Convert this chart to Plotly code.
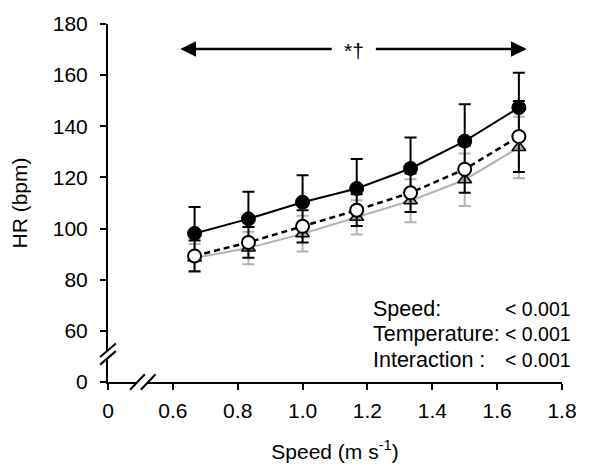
import plotly.graph_objects as go

speed = [0.667, 0.833, 1.0, 1.167, 1.333, 1.5, 1.667]

hr_hot = [98.1, 103.8, 110.3, 115.7, 123.5, 134.2, 147.3]
sd_hot = [10.3, 10.6, 10.6, 11.5, 12.1, 14.4, 13.6]

hr_mid = [89.3, 94.6, 100.9, 107.2, 114.0, 123.2, 136.0]
sd_mid = [6.0, 6.0, 6.3, 6.2, 7.5, 9.2, 13.9]

hr_cool = [88.5, 92.4, 98.0, 104.4, 110.9, 119.1, 131.7]
sd_cool = [5.5, 6.4, 7.0, 6.7, 8.4, 10.3, 12.0]

x_tickvals = [0.4, 0.6, 0.8, 1.0, 1.2, 1.4, 1.6, 1.8]
x_ticktext = ["0", "0.6", "0.8", "1.0", "1.2", "1.4", "1.6", "1.8"]
y_tickvals = [40, 60, 80, 100, 120, 140, 160, 180]
y_ticktext = ["0", "60", "80", "100", "120", "140", "160", "180"]

stats_labels = ["Speed:", "Temperature:", "Interaction :"]
stats_values = ["< 0.001", "< 0.001", "< 0.001"]

sig_text = "*†"
arrow_y = 170.2
arrow_span = [0.623, 1.691]
arrow_gap = [1.09, 1.226]

FONT = "Liberation Sans, Arial, sans-serif"
FS = 21
W, H = 589, 472
ML, MR, MT, MB = 108, 18, 20, 81
PW, PH = W - ML - MR, H - MT - MB
XR = [0.4, 1.8]
YR = [40, 180]

GRAY = "#b4b4b4"

fig = go.Figure()

fig.add_trace(go.Scatter(
    x=speed, y=hr_cool, mode="lines+markers",
    line=dict(color=GRAY, width=2),
    marker=dict(symbol="triangle-up", size=12, color="#a6a6a6",
                line=dict(color="black", width=1.5)),
    error_y=dict(type="data", array=sd_cool, symmetric=True,
                 color=GRAY, thickness=2, width=6),
    showlegend=False, cliponaxis=False))

fig.add_trace(go.Scatter(
    x=speed, y=hr_mid, mode="lines+markers",
    line=dict(color="black", width=2.5, dash="6px,4px"),
    marker=dict(symbol="circle", size=13, color="white",
                line=dict(color="black", width=2)),
    error_y=dict(type="data", array=sd_mid, symmetric=True,
                 color="black", thickness=2, width=6),
    showlegend=False, cliponaxis=False))

fig.add_trace(go.Scatter(
    x=speed, y=hr_hot, mode="lines+markers",
    line=dict(color="black", width=2),
    marker=dict(symbol="circle", size=14, color="black",
                line=dict(color="black", width=1)),
    error_y=dict(type="data", array=sd_hot, arrayminus=[0] * len(sd_hot),
                 symmetric=False, color="black", thickness=2, width=6),
    showlegend=False, cliponaxis=False))


def px2paper(px, py):
    return (px - ML) / PW, (MT + PH - py) / PH


def data2px(x, y):
    return (ML + (x - XR[0]) / (XR[1] - XR[0]) * PW,
            MT + (YR[1] - y) / (YR[1] - YR[0]) * PH)


shapes = []


def poly(points, fill):
    pp = [px2paper(*p) for p in points]
    path = "M " + " L ".join("{} {}".format(a, b) for a, b in pp) + " Z"
    shapes.append(dict(type="path", path=path, xref="paper", yref="paper",
                       fillcolor=fill, line=dict(width=0), layer="above"))


def seg(p0, p1, width=2):
    x0, y0 = px2paper(*p0)
    x1, y1 = px2paper(*p1)
    shapes.append(dict(type="line", xref="paper", yref="paper",
                       x0=x0, y0=y0, x1=x1, y1=y1,
                       line=dict(color="black", width=width), layer="above"))


def add_break(cx, cy, sep_dx, sep_dy, hw, hh):
    poly([(cx - sep_dx / 2 - hw, cy - sep_dy / 2 + hh),
          (cx - sep_dx / 2 + hw, cy - sep_dy / 2 - hh),
          (cx + sep_dx / 2 + hw, cy + sep_dy / 2 - hh),
          (cx + sep_dx / 2 - hw, cy + sep_dy / 2 + hh)], "white")
    for s in (-1, 1):
        ox, oy = cx + s * sep_dx / 2, cy + s * sep_dy / 2
        seg((ox - hw, oy + hh), (ox + hw, oy - hh))


# axis breaks
add_break(ML, 362, 0, 8, 8, 7)
add_break(143.5, MT + PH, 11, 0, 7.5, 8)

# double-headed arrow with gap for the significance text
HL, HH = 16, 8
lx, ay = data2px(arrow_span[0], arrow_y)
rx, _ = data2px(arrow_span[1], arrow_y)
g0, _ = data2px(arrow_gap[0], arrow_y)
g1, _ = data2px(arrow_gap[1], arrow_y)
seg((lx + HL - 2, ay), (g0, ay), 2.5)
seg((g1, ay), (rx - HL + 2, ay), 2.5)
poly([(lx, ay), (lx + HL, ay - HH), (lx + HL, ay + HH)], "black")
poly([(rx, ay), (rx - HL, ay - HH), (rx - HL, ay + HH)], "black")

annotations = []
annotations.append(dict(x=(arrow_gap[0] + arrow_gap[1]) / 2, y=arrow_y - 0.5,
                        xref="x", yref="y", text=sig_text, yanchor="middle",
                        showarrow=False, font=dict(family=FONT, size=FS, color="black")))

row_py = [315, 341.7, 368]
for lab, val, py in zip(stats_labels, stats_values, row_py):
    xl, yy = px2paper(376, py)
    xr, _ = px2paper(582, py)
    annotations.append(dict(x=xl, y=yy, xref="paper", yref="paper", text=lab,
                            xanchor="left", yanchor="middle", showarrow=False,
                            font=dict(family=FONT, size=21.5, color="black")))
    annotations.append(dict(x=xr, y=yy, xref="paper", yref="paper", text=val,
                            xanchor="right", yanchor="middle", showarrow=False,
                            font=dict(family=FONT, size=19.5, color="black")))

fig.update_layout(
    width=W, height=H,
    margin=dict(l=ML, r=MR, t=MT, b=MB),
    paper_bgcolor="white", plot_bgcolor="white",
    font=dict(family=FONT, size=FS, color="black"),
    shapes=shapes, annotations=annotations,
    xaxis=dict(range=XR, tickvals=x_tickvals, ticktext=x_ticktext,
               showgrid=False, zeroline=False, showline=True, linecolor="black",
               linewidth=2, ticks="outside", ticklen=6, tickwidth=1.5,
               tickcolor="black", ticklabelstandoff=3,
               tickfont=dict(family=FONT, size=FS, color="black"),
               title=dict(text="Speed (m s<sup>-1</sup>)", standoff=23,
                          font=dict(family=FONT, size=FS, color="black"))),
    yaxis=dict(range=YR, tickvals=y_tickvals, ticktext=y_ticktext,
               showgrid=False, zeroline=False, showline=True, linecolor="black",
               linewidth=2, ticks="outside", ticklen=6, tickwidth=1.5,
               tickcolor="black", ticklabelstandoff=8,
               tickfont=dict(family=FONT, size=FS, color="black"),
               title=dict(text="HR (bpm)", standoff=19,
                          font=dict(family=FONT, size=FS, color="black"))),
)

fig.write_html("out.html", config={"displayModeBar": False},
               post_script="document.body.style.margin='0px';")
